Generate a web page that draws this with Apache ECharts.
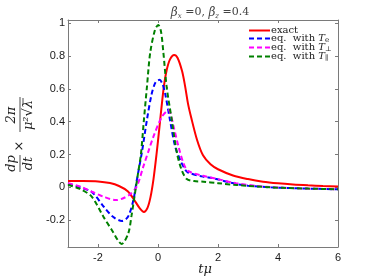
<!DOCTYPE html>
<html><head><meta charset="utf-8">
<script src="https://cdn.jsdelivr.net/npm/echarts@6/dist/echarts.min.js"></script>
<style>html,body{margin:0;padding:0;background:#fff}#c{width:373px;height:280px}</style>
</head><body><div id="c"></div>
<script>
// ---- data ----
const xTicks = [-2, 0, 2, 4, 6];
const yTicks = [-0.2, 0, 0.2, 0.4, 0.6, 0.8, 1];

const xExact = [-3, -2.5, -2.0, -1.6, -1.3, -1.0, -0.8, -0.6, -0.47, -0.35, -0.25, -0.15, -0.05, 0.05, 0.13, 0.2, 0.29, 0.4, 0.54, 0.65, 0.8, 0.9, 1.0, 1.1, 1.3, 1.5, 1.75, 2.0, 2.5, 3.0, 3.5, 4.0, 4.5, 5.0, 5.5, 6.0];
const yExact = [0.038, 0.038, 0.036, 0.026, 0.008, -0.025, -0.075, -0.13, -0.15, -0.125, -0.06, 0.05, 0.2, 0.37, 0.51, 0.62, 0.715, 0.78, 0.807, 0.79, 0.71, 0.62, 0.51, 0.43, 0.29, 0.195, 0.14, 0.11, 0.072, 0.05, 0.034, 0.024, 0.017, 0.012, 0.008, 0.005];

const xTe = [-3, -2.6, -2.2, -1.8, -1.5, -1.2, -1.0, -0.82, -0.71, -0.54, -0.37, -0.21, -0.08, 0.05, 0.15, 0.24, 0.4, 0.57, 0.74, 0.9, 1.0, 1.5, 1.85, 2.6, 3.0, 3.75, 4.5, 5.2, 6.0];
const yTe = [0.02, 0.0, -0.03, -0.12, -0.18, -0.205, -0.18, -0.077, 0.04, 0.21, 0.41, 0.57, 0.64, 0.655, 0.63, 0.57, 0.41, 0.25, 0.166, 0.11, 0.09, 0.065, 0.055, 0.02, 0.01, 0.0, -0.005, -0.009, -0.012];

const xTperp = [-3, -2.6, -2.2, -1.82, -1.4, -1.16, -0.93, -0.71, -0.49, -0.3, -0.15, 0.13, 0.35, 0.52, 0.68, 0.85, 1.0, 1.5, 2.0, 2.6, 3.5, 4.5, 6.0];
const yTperp = [0.025, 0.005, -0.027, -0.057, -0.078, -0.067, -0.042, 0.004, 0.126, 0.23, 0.31, 0.43, 0.47, 0.37, 0.25, 0.146, 0.1, 0.07, 0.05, 0.025, 0.005, -0.005, -0.012];

const xTpar = [-3, -2.6, -2.21, -1.82, -1.54, -1.21, -0.99, -0.88, -0.77, -0.67, -0.57, -0.47, -0.37, -0.26, -0.1, 0.01, 0.1, 0.18, 0.29, 0.46, 0.63, 0.79, 0.96, 1.2, 1.52, 2.0, 2.63, 3.75, 5.0, 6.0];
const yTpar = [0.015, -0.01, -0.057, -0.179, -0.26, -0.345, -0.28, -0.17, -0.04, 0.08, 0.2, 0.41, 0.61, 0.82, 0.96, 0.99, 0.95, 0.82, 0.61, 0.41, 0.21, 0.105, 0.05, 0.038, 0.034, 0.025, 0.014, 0.0, -0.008, -0.012];

const names = ['exact', 'eq. with Te', 'eq. with Tperp', 'eq. with Tpar'];
const legendRich = {
  'exact': '{n|exact}',
  'eq. with Te': '{n|eq.  with }{i|T}{s|e}',
  'eq. with Tperp': '{n|eq.  with }{i|T}{s|⊥}',
  'eq. with Tpar': '{n|eq.  with }{i|T}{s|∥}'
};

function zip(xs, ys) { return xs.map((x, i) => [x, ys[i]]); }

const chart = echarts.init(document.getElementById('c'), null, { renderer: 'canvas' });
const axisCol = '#7a7a7a';
const serif = '"DejaVu Serif", "Liberation Serif", serif';
const sans = '"Liberation Sans", Arial, sans-serif';

function mkX(pos, showLabel) {
  return {
    type: 'value', position: pos, min: -3, max: 6,
    axisLine: { show: true, onZero: false, lineStyle: { color: axisCol, width: 1 } },
    axisTick: { show: true, inside: true, length: 3, customValues: xTicks, lineStyle: { color: axisCol } },
    axisLabel: { show: showLabel, customValues: xTicks, margin: 5, fontSize: 11, fontFamily: sans, color: '#1a1a1a' },
    splitLine: { show: false }
  };
}
function mkY(pos, showLabel) {
  return {
    type: 'value', position: pos, min: -0.364, max: 1.02,
    axisLine: { show: true, onZero: false, lineStyle: { color: axisCol, width: 1 } },
    axisTick: { show: true, inside: true, length: 3, customValues: yTicks, lineStyle: { color: axisCol } },
    axisLabel: { show: showLabel, customValues: yTicks, margin: 3, fontSize: 11, fontFamily: sans, color: '#1a1a1a' },
    splitLine: { show: false }
  };
}

const seriesDef = [
  { name: names[0], xs: xExact, ys: yExact, color: '#ff0000', type: 'solid', w: 2 },
  { name: names[1], xs: xTe, ys: yTe, color: '#0000ff', type: [5, 3], w: 2 },
  { name: names[2], xs: xTperp, ys: yTperp, color: '#ff00ff', type: [5, 3], w: 2 },
  { name: names[3], xs: xTpar, ys: yTpar, color: '#008000', type: [5, 3], w: 2 }
];

const it = 'italic 13px ' + serif;
const up = '13px ' + serif;
function txt(text, x, y, va, font) {
  return { type: 'text', x: x, y: y, style: { text: text, font: font, fill: '#222', align: 'center', verticalAlign: va, textAlign: 'center', textVerticalAlign: va } };
}
function ln(x1, x2, y) {
  return { type: 'line', shape: { x1: x1, y1: y || 0, x2: x2, y2: y || 0 }, style: { stroke: '#222', lineWidth: 0.8 } };
}

chart.setOption({
  animation: false,
  backgroundColor: '#fff',
  title: {
    text: '{b|β}{s|x}{n| =0, }{b|β}{s|z}{n| =0.4}',
    left: 205, top: 2, textAlign: 'center',
    textStyle: {
      fontWeight: 'normal',
      rich: {
        b: { fontFamily: serif, fontStyle: 'italic', fontWeight: 'normal', fontSize: 12, color: '#444', verticalAlign: 'top', lineHeight: 13 },
        s: { fontFamily: serif, fontStyle: 'italic', fontWeight: 'normal', fontSize: 7, color: '#444', verticalAlign: 'bottom', lineHeight: 8 },
        n: { fontFamily: serif, fontWeight: 'normal', fontSize: 11, color: '#444', verticalAlign: 'top', lineHeight: 13 }
      }
    }
  },
  grid: { left: 68, right: 35, top: 20, bottom: 33, containLabel: false },
  xAxis: [mkX('bottom', true), mkX('top', false)],
  yAxis: [mkY('left', true), mkY('right', false)],
  legend: {
    orient: 'vertical', left: 248, top: 25, padding: 0, itemGap: -2,
    itemWidth: 21, itemHeight: 9, data: names,
    itemStyle: { opacity: 0 },
    formatter: function (n) { return legendRich[n]; },
    textStyle: {
      padding: [0, 0, 0, -4],
      rich: {
        n: { fontFamily: serif, fontSize: 10, color: '#222', verticalAlign: 'top', lineHeight: 11 },
        i: { fontFamily: serif, fontStyle: 'italic', fontSize: 10, color: '#222', verticalAlign: 'top', lineHeight: 11 },
        s: { fontFamily: serif, fontSize: 7, color: '#222', verticalAlign: 'bottom', lineHeight: 8 }
      }
    }
  },
  series: seriesDef.map(s => ({
    name: s.name, type: 'line', xAxisIndex: 0, yAxisIndex: 0,
    data: zip(s.xs, s.ys), smooth: 0.3, symbol: 'none', showSymbol: false,
    lineStyle: { color: s.color, width: s.w, type: s.type },
    itemStyle: { color: s.color }
  })),
  graphic: [
    {
      type: 'group', x: 20, y: 133, rotation: Math.PI / 2,
      children: [
        txt('dp', -30.5, -1.5, 'bottom', it),
        ln(-39, -22),
        txt('dt', -30.5, 2, 'top', it),
        txt('×', -13, 0, 'middle', up),
        txt('2π', 18, -1.5, 'bottom', it),
        ln(1, 36),
        txt('μ²√λ', 18, 2, 'top', it),
        ln(28, 35, 3)
      ]
    },
    { type: 'text', x: 205, y: 270, style: { text: 'tμ', font: it, fill: '#222', align: 'center', verticalAlign: 'middle', textAlign: 'center', textVerticalAlign: 'middle' } }
  ]
});
</script>
</body></html>
